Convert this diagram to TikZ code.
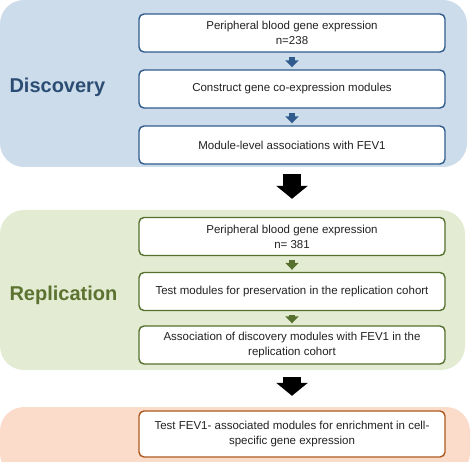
\documentclass[tikz,border=0pt]{standalone}
\usepackage{fontspec}
\setmainfont{Liberation Sans}
\usepackage{xcolor}
\usetikzlibrary{arrows.meta, positioning}
\definecolor{discfill}{HTML}{CCDCEA}
\definecolor{discline}{HTML}{2F5C8D}
\definecolor{disctext}{HTML}{2B4D74}
\definecolor{replfill}{HTML}{E3ECD2}
\definecolor{replline}{HTML}{56702D}
\definecolor{repltext}{HTML}{5B7230}
\definecolor{enrfill}{HTML}{FBDCCB}
\definecolor{enrline}{HTML}{AE5A1F}
\definecolor{boxtext}{HTML}{222222}

\begin{document}
\begin{tikzpicture}[
    x=1pt, y=-1pt,
    panel/.style={rectangle, rounded corners=24pt, inner sep=0pt},
    box/.style={rectangle, draw, fill=white, line width=1.4pt, rounded corners=5pt, minimum width=306pt, minimum height=38pt, align=center, text=boxtext, font=\fontsize{11.5}{15}\selectfont},
    label/.style={anchor=west, font=\bfseries\fontsize{20}{24}\selectfont},
    smallarrow/.style={line width=6pt, -{Triangle[width=13pt, length=7pt]}, shorten <=4pt, shorten >=2pt},
    bigarrow/.style={line width=18pt, black, -{Triangle[width=31pt, length=13pt]}, shorten <=7pt, shorten >=11pt}
]
\clip (0,0) rectangle (473,462);

% Discovery
\node[panel, fill=discfill, minimum width=467pt, minimum height=167pt] (disc) at (233.5,83.5) {};
\node[label, text=disctext] (disclabel) at (6,87) {Discovery};

\node[box, draw=discline] (disc1) at (292,33) {Peripheral blood gene expression\\n=238};
\node[box, draw=discline] (disc2) at (292,89) {Construct gene co-expression modules};
\node[box, draw=discline] (disc3) at (292,145) {Module-level associations with FEV1};

\draw[smallarrow, discline] (disc1) -- (disc2);
\draw[smallarrow, discline] (disc2) -- (disc3);

% Replication
\node[panel, fill=replfill, minimum width=465pt, minimum height=160pt] (repl) at (232.5,290) {};
\node[label, text=repltext] (repllabel) at (6,295) {Replication};

\node[box, draw=replline] (repl1) at (292,236.5) {Peripheral blood gene expression\\n= 381};
\node[box, draw=replline] (repl2) at (292,291.5) {Test modules for preservation in the replication cohort};
\node[box, draw=replline] (repl3) at (292,345) {Association of discovery modules with FEV1 in the\\replication cohort};

\draw[smallarrow, replline] (repl1) -- (repl2);
\draw[smallarrow, replline] (repl2) -- (repl3);

% Enrichment
\node[panel, fill=enrfill, minimum width=470pt, minimum height=70pt] (enr) at (235,442) {};
\node[box, draw=enrline, minimum height=46pt] (enr1) at (292,434) {Test FEV1- associated modules for enrichment in cell-\\specific gene expression};

% Connections
\draw[bigarrow] (disc.south -| disc3.south) -- (repl.north -| repl1.north);
\draw[bigarrow] (repl.south -| repl3.south) -- (enr.north -| enr1.north);

\end{tikzpicture}
\end{document}
